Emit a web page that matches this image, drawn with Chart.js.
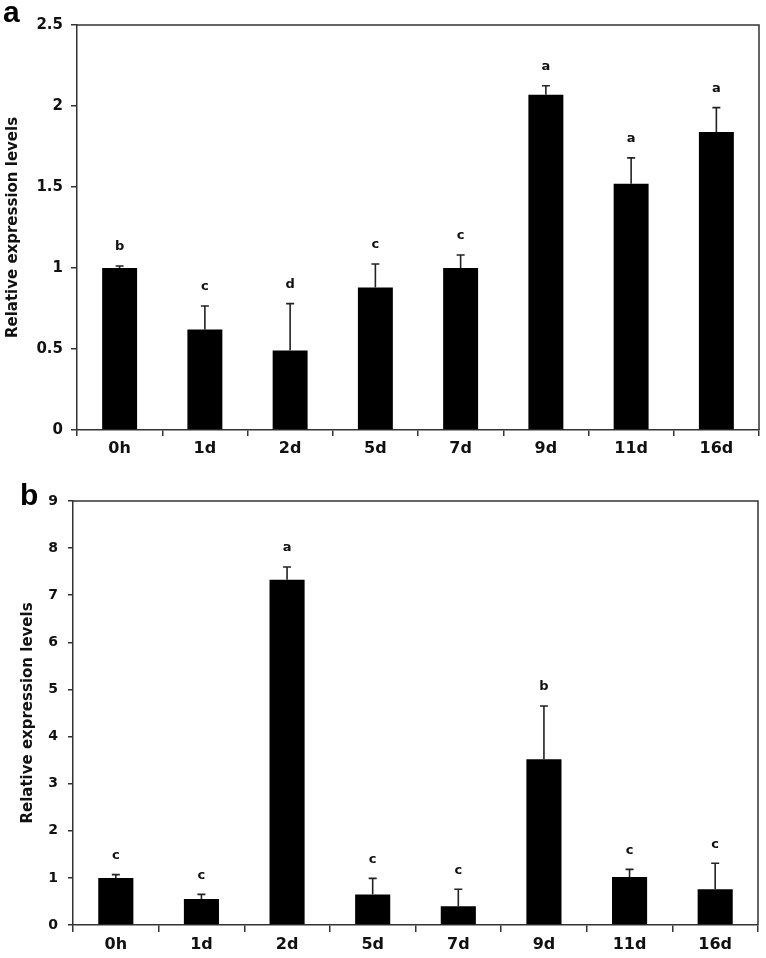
<!DOCTYPE html>
<html>
<head>
<meta charset="utf-8">
<title>Relative expression levels</title>
<script src="https://cdn.jsdelivr.net/npm/chart.js@4.4.1/dist/chart.umd.min.js"></script>
<style>
    html, body { margin: 0; padding: 0; background: #fff; }
    #wrap-a { position: absolute; left: 0; top: 0; }
    #wrap-b { position: absolute; left: 0; top: 470px; }
</style>
</head>
<body>
<div id="wrap-a"><canvas id="chart-a" width="766" height="460"></canvas></div>
<div id="wrap-b"><canvas id="chart-b" width="766" height="488"></canvas></div>
<script>
(function () {
    'use strict';

    // Sampling times (shared by both panels)
    var categories = ['0h', '1d', '2d', '5d', '7d', '9d', '11d', '16d'];

    // Panel a
    var valuesA = [1.00, 0.62, 0.49, 0.88, 1.00, 2.07, 1.52, 1.84];
    var errorsA = [0.012, 0.145, 0.29, 0.145, 0.08, 0.055, 0.16, 0.15];
    var lettersA = ['b', 'c', 'd', 'c', 'c', 'a', 'a', 'a'];
    var ticksA = [0, 0.5, 1, 1.5, 2, 2.5];

    // Panel b
    var valuesB = [1.00, 0.55, 7.33, 0.65, 0.40, 3.52, 1.02, 0.76];
    var errorsB = [0.07, 0.10, 0.27, 0.34, 0.36, 1.13, 0.16, 0.55];
    var lettersB = ['c', 'c', 'a', 'c', 'c', 'b', 'c', 'c'];
    var ticksB = [0, 1, 2, 3, 4, 5, 6, 7, 8, 9];

    var FONT = '"DejaVu Sans", "Liberation Sans", Arial, sans-serif';
    var INK = '#111';
    var LINE = '#333';

    /**
     * Frame, upward error bars, significance letters and panel label.
     */
    function annotations(panel, errors, letters) {
        return {
            id: 'annotations',
            afterDatasetsDraw: function (chart) {
                var ctx = chart.ctx;
                var area = chart.chartArea;
                var xs = chart.scales.x;
                var ys = chart.scales.y;
                var values = chart.data.datasets[0].data;

                ctx.save();
                ctx.strokeStyle = LINE;
                ctx.lineWidth = 1.5;
                ctx.beginPath();
                ctx.moveTo(area.left, area.top);
                ctx.lineTo(area.right, area.top);
                ctx.lineTo(area.right, area.bottom);
                ctx.stroke();

                values.forEach(function (v, i) {
                    var px = xs.getPixelForValue(i);
                    var y0 = ys.getPixelForValue(v);
                    var y1 = ys.getPixelForValue(v + errors[i]);

                    ctx.strokeStyle = '#222';
                    ctx.lineWidth = 1.6;
                    ctx.beginPath();
                    ctx.moveTo(px, y0);
                    ctx.lineTo(px, y1);
                    ctx.moveTo(px - 4, y1);
                    ctx.lineTo(px + 4, y1);
                    ctx.stroke();

                    ctx.fillStyle = INK;
                    ctx.font = 'bold 13px ' + FONT;
                    ctx.textAlign = 'center';
                    ctx.textBaseline = 'middle';
                    ctx.fillText(letters[i], px, y1 - 19);
                });

                ctx.fillStyle = '#000';
                ctx.font = 'bold 30px "Liberation Sans", Arial, sans-serif';
                ctx.textAlign = 'left';
                ctx.textBaseline = 'alphabetic';
                ctx.fillText(panel.text, panel.x, panel.y);
                ctx.restore();
            }
        };
    }

    function makeChart(canvasId, values, errors, letters, ticks, opts) {
        var canvas = document.getElementById(canvasId);

        return new Chart(canvas, {
            type: 'bar',
            data: {
                labels: categories,
                datasets: [{
                    data: values,
                    backgroundColor: '#000',
                    borderWidth: 0,
                    barPercentage: 0.41,
                    categoryPercentage: 1,
                }],
            },
            options: {
                responsive: false,
                animation: false,
                events: [],
                layout: {
                    padding: { top: opts.padTop, right: opts.padRight, left: 0, bottom: 0 },
                },
                plugins: {
                    legend: { display: false },
                    tooltip: { enabled: false },
                },
                scales: {
                    x: {
                        offset: true,
                        ticks: {
                            color: INK,
                            font: { family: FONT, weight: 'bold', size: 16 },
                            padding: 3,
                            maxRotation: 0,
                            autoSkip: false,
                        },
                        grid: {
                            offset: true,
                            drawOnChartArea: false,
                            drawTicks: true,
                            tickLength: opts.xTickLen,
                            color: LINE,
                            lineWidth: 1.5,
                        },
                        border: { display: true, color: LINE, width: 1.5 },
                        afterFit: function (scale) { scale.height = opts.axisBottom; },
                    },
                    y: {
                        min: ticks[0],
                        max: ticks[ticks.length - 1],
                        ticks: {
                            stepSize: ticks[1] - ticks[0],
                            color: INK,
                            font: { family: FONT, weight: 'bold', size: opts.yTickSize },
                            padding: opts.yTickPad,
                            callback: function (v) { return String(v); },
                        },
                        grid: {
                            drawOnChartArea: false,
                            drawTicks: true,
                            tickLength: opts.yTickLen,
                            color: LINE,
                            lineWidth: 1.5,
                        },
                        border: { display: true, color: LINE, width: 1.5 },
                        title: {
                            display: true,
                            text: 'Relative expression levels',
                            color: INK,
                            font: { family: FONT, weight: 'bold', size: 15 },
                            padding: { top: opts.titlePad, bottom: 0 },
                        },
                        afterFit: function (scale) { scale.width = opts.axisLeft; },
                    },
                },
            },
            plugins: [annotations(opts.panel, errors, letters)],
        });
    }

    makeChart('chart-a', valuesA, errorsA, lettersA, ticksA, {
        padTop: 25, padRight: 7, axisLeft: 77, axisBottom: 30,
        yTickSize: 15, yTickPad: 8, yTickLen: 6, xTickLen: 6, titlePad: 4,
        panel: { text: 'a', x: 3, y: 22 },
    });

    makeChart('chart-b', valuesB, errorsB, lettersB, ticksB, {
        padTop: 31, padRight: 8, axisLeft: 73, axisBottom: 33,
        yTickSize: 14, yTickPad: 10, yTickLen: 5, xTickLen: 7, titlePad: 19,
        panel: { text: 'b', x: 20, y: 35 },
    });
})();
</script>
</body>
</html>
